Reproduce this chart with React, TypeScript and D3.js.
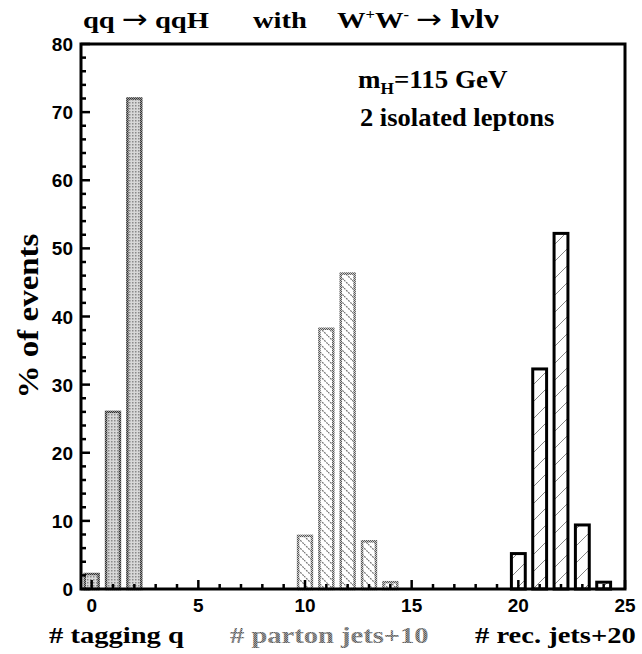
import React from "react";
import * as d3 from "d3";

const taggingX = [0, 1, 2];
const taggingV = [2.2, 26, 72];
const partonX = [10, 11, 12, 13, 14];
const partonV = [7.8, 38.2, 46.3, 7, 1];
const recX = [20, 21, 22, 23, 24];
const recV = [5.2, 32.3, 52.2, 9.4, 1];
const xMajor = [0, 5, 10, 15, 20, 25];
const yMajor = [0, 10, 20, 30, 40, 50, 60, 70, 80];

const W = 642, H = 654;
const L = 81, R = 625, T = 44, B = 589;
const serif = "Liberation Serif";
const sans = "Liberation Sans";

function Txt(props: { x: number; y: number; sx?: number; size?: number; fill?: string; children: React.ReactNode }) {
  const { x, y, sx = 1.19, size = 24, fill = "#000", children } = props;
  return (
    <text transform={`translate(${x},${y}) scale(${sx},1)`} fill={fill}
      style={{ fontFamily: serif, fontWeight: "bold", fontSize: size }}>{children}</text>
  );
}

export default function App() {
  const x = d3.scaleLinear().domain([-0.5, 25]).range([L, R]);
  const y = d3.scaleLinear().domain([0, 80]).range([B, T]);
  const bw = x(0.65) - x(0);
  const xMinor = d3.range(0, 26, 1);
  const yMinor = d3.range(0, 81, 2);

  const bars = (xs: number[], vs: number[], fill: string, stroke: string, sw: number, key: string) =>
    xs.map((xv, i) => (
      <rect key={key + i} x={x(xv) - bw / 2} y={y(vs[i])} width={bw} height={B - y(vs[i])}
        fill={fill} stroke={stroke} strokeWidth={sw} />
    ));

  const arrow = (
    <tspan style={{ fontFamily: "DejaVu Sans", fontWeight: "normal", fontSize: 26 }}>→</tspan>
  );

  return (
    <svg width={W} height={H} style={{ position: "absolute", left: 0, top: 0, background: "#fff" }}>
      <defs>
        <pattern id="stip" width="3" height="3" patternUnits="userSpaceOnUse">
          <rect width="3" height="3" fill="#d8d8d8" />
          <rect width="1.5" height="1.5" fill="#8a8a8a" />
        </pattern>
        <pattern id="stipB" width="2" height="2" patternUnits="userSpaceOnUse">
          <rect width="2" height="2" fill="#999" />
          <rect width="1" height="1" fill="#333" />
          <rect x="1" y="1" width="1" height="1" fill="#333" />
        </pattern>
        <pattern id="bs" width="8" height="8" patternUnits="userSpaceOnUse">
          <rect width="8" height="8" fill="#fff" />
          <path d="M0,0 L8,8 M-4,4 L4,12 M4,-4 L12,4" stroke="#777" strokeWidth="1.2" strokeDasharray="2,1" />
        </pattern>
        <pattern id="gB" width="2" height="2" patternUnits="userSpaceOnUse">
          <rect width="2" height="2" fill="#ccc" />
          <rect width="1" height="1" fill="#555" />
          <rect x="1" y="1" width="1" height="1" fill="#555" />
        </pattern>
        <pattern id="fs" width="17" height="17" patternUnits="userSpaceOnUse">
          <rect width="17" height="17" fill="#fff" />
          <path d="M0,17 L17,0 M-9,9 L9,-9 M8,26 L26,8" stroke="#777" strokeWidth="0.9" />
        </pattern>
        <pattern id="gTxt" width="2" height="2" patternUnits="userSpaceOnUse">
          <rect width="2" height="2" fill="#aaa" />
          <rect width="1" height="1" fill="#555" />
          <rect x="1" y="1" width="1" height="1" fill="#555" />
        </pattern>
      </defs>

      {bars(taggingX, taggingV, "url(#stip)", "url(#stipB)", 2.5, "t")}
      {bars(partonX, partonV, "url(#bs)", "url(#gB)", 2.5, "p")}
      {bars(recX, recV, "url(#fs)", "#000", 3, "r")}

      <rect x={L} y={T} width={R - L} height={B - T} fill="none" stroke="#000" strokeWidth={3} />

      {yMinor.map((v) => (
        <line key={"ym" + v} x1={L} x2={L + (v % 10 === 0 ? 9 : 5)} y1={y(v)} y2={y(v)} stroke="#000" strokeWidth={2.5} />
      ))}
      {yMajor.map((v) => (
        <text key={"yl" + v} x={L - 8} y={y(v) + 7} textAnchor="end" style={{ fontFamily: sans, fontWeight: "bold", fontSize: 19 }}>{v}</text>
      ))}
      {xMinor.map((v) => (
        <line key={"xm" + v} x1={x(v)} x2={x(v)} y1={B} y2={B - (v % 5 === 0 ? 9 : 5)} stroke="#000" strokeWidth={2.5} />
      ))}
      {xMajor.map((v) => (
        <text key={"xl" + v} x={x(v)} y={612} textAnchor="middle" style={{ fontFamily: sans, fontWeight: "bold", fontSize: 19 }}>{v}</text>
      ))}

      <Txt x={83} y={28}>qq {arrow} qqH</Txt>
      <Txt x={253} y={28}>with</Txt>
      <Txt x={337} y={28}>
        W<tspan dy={-9} style={{ fontSize: 14 }}>+</tspan><tspan dy={9}>W</tspan><tspan dy={-9} style={{ fontSize: 14 }}>-</tspan><tspan dy={9}> </tspan>{arrow}<tspan style={{ fontSize: 28 }}> lνlν</tspan>
      </Txt>

      <Txt x={358} y={88} size={25} sx={1.08}>
        m<tspan dy={6} style={{ fontSize: 16 }}>H</tspan><tspan dy={-6}>=115 GeV</tspan>
      </Txt>
      <Txt x={360} y={126} size={25} sx={1.06}>2 isolated leptons</Txt>

      <text transform={`translate(38,316) rotate(-90) scale(1.1,1)`} textAnchor="middle"
        style={{ fontFamily: serif, fontWeight: "bold", fontSize: 30 }}>% of events</text>

      <Txt x={49} y={643}># tagging q</Txt>
      <Txt x={230} y={643} fill="url(#gTxt)"># parton jets+10</Txt>
      <Txt x={475} y={643}># rec. jets+20</Txt>
    </svg>
  );
}
